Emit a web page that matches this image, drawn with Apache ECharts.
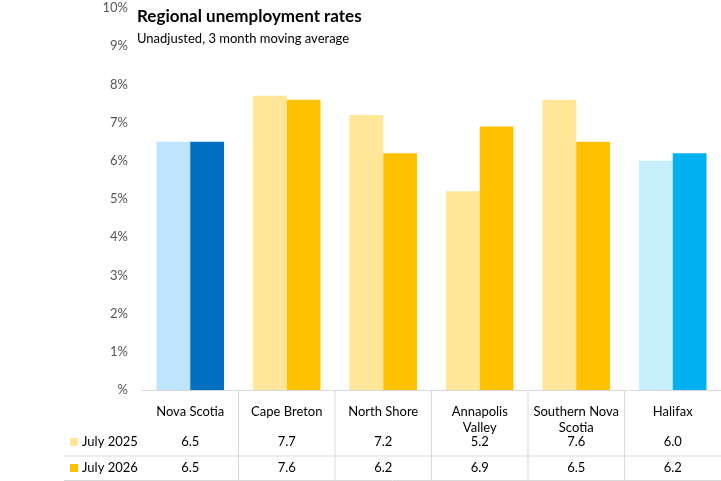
<!DOCTYPE html>
<html>
<head>
<meta charset="utf-8">
<script src="https://cdn.jsdelivr.net/npm/echarts@6/dist/echarts.min.js"></script>
<style>html,body{margin:0;padding:0;background:#fff}#chart{width:721px;height:481px}</style>
</head>
<body>
<div id="chart"></div>
<script>
let categories = ['Nova Scotia', 'Cape Breton', 'North Shore', 'Annapolis\nValley', 'Southern Nova\nScotia', 'Halifax'];
let july2025 = [6.5, 7.7, 7.2, 5.2, 7.6, 6.0];
let july2026 = [6.5, 7.6, 6.2, 6.9, 6.5, 6.2];
let lightColors = ['#BFE4FD', '#FFE699', '#FFE699', '#FFE699', '#FFE699', '#C6EFFB'];
let darkColors = ['#0070C0', '#FFC000', '#FFC000', '#FFC000', '#FFC000', '#00B0F0'];
let seriesNames = ['July 2025', 'July 2026'];

let chart = echarts.init(document.getElementById('chart'));
const font = 'Lato, "Open Sans", sans-serif';

function colored(values, colors) {
    return values.map((v, i) => ({ value: v, itemStyle: { color: colors[i] } }));
}

chart.setOption({
    animation: false,
    textStyle: { fontFamily: font },
    grid: { left: 142, right: 0, top: 8, bottom: 91 },
    xAxis: {
        type: 'category',
        data: categories,
        axisLine: { lineStyle: { color: '#d9d9d9' } },
        axisTick: { show: false },
        axisLabel: { color: '#000', fontSize: 13, margin: 14, lineHeight: 16, fontFamily: font, interval: 0 }
    },
    yAxis: {
        type: 'value',
        min: 0,
        max: 10,
        interval: 1,
        axisLabel: { color: '#555', fontSize: 13, margin: 14, fontFamily: font,
            formatter: v => v === 0 ? '%' : v + '%' },
        splitLine: { show: false },
        axisLine: { show: false }
    },
    series: [
        { name: seriesNames[0], type: 'bar', data: colored(july2025, lightColors), barGap: '0%', barCategoryGap: '30%' },
        { name: seriesNames[1], type: 'bar', data: colored(july2026, darkColors) }
    ]
});

function buildTable() {
    let els = [];
    let rowsY = [442, 468];
    let half = (721 - 142) / categories.length / 2;
    els.push({ type: 'text', left: 137, top: 8, style: { text: 'Regional unemployment rates', font: 'bold 17px ' + font, fill: '#000' } });
    els.push({ type: 'text', left: 137, top: 32, style: { text: 'Unadjusted, 3 month moving average', font: '13px ' + font, fill: '#000' } });
    categories.forEach((c, i) => {
        let x = chart.convertToPixel({ xAxisIndex: 0 }, i);
        if (i > 0) {
            els.push({ type: 'line', shape: { x1: x - half, y1: 390, x2: x - half, y2: 481 }, style: { stroke: '#d9d9d9', lineWidth: 1 } });
        }
        [july2025, july2026].forEach((arr, r) => {
            els.push({ type: 'text', x: x, y: rowsY[r], style: { text: arr[i].toFixed(1), font: '13px ' + font, fill: '#000', align: 'center', verticalAlign: 'middle' } });
        });
    });
    els.push({ type: 'line', shape: { x1: 64, y1: 456, x2: 721, y2: 456 }, style: { stroke: '#d9d9d9', lineWidth: 1 } });
    els.push({ type: 'line', shape: { x1: 64, y1: 480.5, x2: 721, y2: 480.5 }, style: { stroke: '#d9d9d9', lineWidth: 1 } });
    seriesNames.forEach((n, r) => {
        els.push({ type: 'rect', shape: { x: 70, y: rowsY[r] - 4, width: 8, height: 8 }, style: { fill: lightColors[1 + 0] === '#FFE699' ? [lightColors[1], darkColors[1]][r] : '#ccc' } });
        els.push({ type: 'text', x: 82, y: rowsY[r], style: { text: n, font: '13px ' + font, fill: '#000', verticalAlign: 'middle' } });
    });
    chart.setOption({ graphic: els });
}
buildTable();
</script>
</body>
</html>
